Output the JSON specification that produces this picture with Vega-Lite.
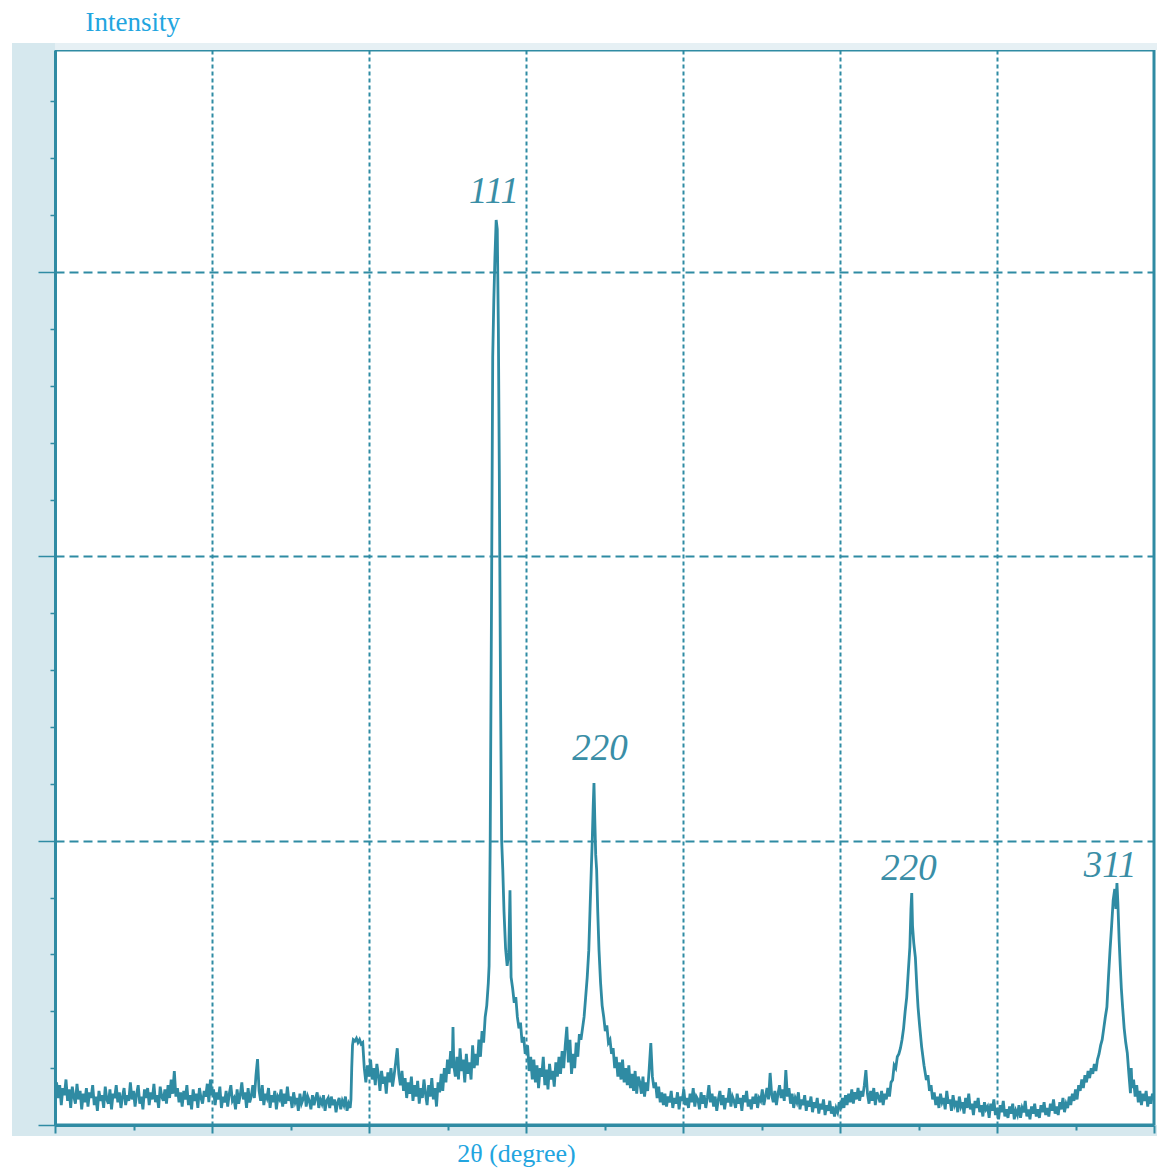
{
"$schema":"https://vega.github.io/schema/vega-lite/v6.json",
"width":1099,"height":1075,
"autosize":{"type":"none"},
"padding":{"left":55,"top":50,"right":3,"bottom":44},
"background":"white",
"config":{"view":{"stroke":"#2f8ba3","strokeWidth":3}},
"datasets":{
"xrd":[
{"angle":10.0,"intensity":120},{"angle":10.1,"intensity":150},{"angle":10.2,"intensity":95},{"angle":10.3,"intensity":140},{"angle":10.4,"intensity":70},{"angle":10.5,"intensity":130},{"angle":10.6,"intensity":105},{"angle":10.7,"intensity":160},{"angle":10.8,"intensity":85},{"angle":10.9,"intensity":125},
{"angle":11.0,"intensity":60},{"angle":11.1,"intensity":135},{"angle":11.2,"intensity":100},{"angle":11.3,"intensity":75},{"angle":11.4,"intensity":145},{"angle":11.5,"intensity":90},{"angle":11.6,"intensity":120},{"angle":11.7,"intensity":55},{"angle":11.8,"intensity":110},{"angle":11.9,"intensity":80},
{"angle":12.0,"intensity":130},{"angle":12.1,"intensity":65},{"angle":12.2,"intensity":115},{"angle":12.3,"intensity":95},{"angle":12.4,"intensity":140},{"angle":12.5,"intensity":70},{"angle":12.6,"intensity":100},{"angle":12.7,"intensity":50},{"angle":12.8,"intensity":120},{"angle":12.9,"intensity":85},
{"angle":13.0,"intensity":105},{"angle":13.1,"intensity":60},{"angle":13.2,"intensity":135},{"angle":13.3,"intensity":90},{"angle":13.4,"intensity":75},{"angle":13.5,"intensity":125},{"angle":13.6,"intensity":55},{"angle":13.7,"intensity":110},{"angle":13.8,"intensity":95},{"angle":13.9,"intensity":140},
{"angle":14.0,"intensity":80},{"angle":14.1,"intensity":115},{"angle":14.2,"intensity":60},{"angle":14.3,"intensity":100},{"angle":14.4,"intensity":130},{"angle":14.5,"intensity":70},{"angle":14.6,"intensity":105},{"angle":14.7,"intensity":85},{"angle":14.8,"intensity":150},{"angle":14.9,"intensity":90},
{"angle":15.0,"intensity":120},{"angle":15.1,"intensity":65},{"angle":15.2,"intensity":110},{"angle":15.3,"intensity":140},{"angle":15.4,"intensity":75},{"angle":15.5,"intensity":100},{"angle":15.6,"intensity":55},{"angle":15.7,"intensity":125},{"angle":15.8,"intensity":95},{"angle":15.9,"intensity":130},
{"angle":16.0,"intensity":70},{"angle":16.1,"intensity":115},{"angle":16.2,"intensity":90},{"angle":16.3,"intensity":145},{"angle":16.4,"intensity":80},{"angle":16.5,"intensity":105},{"angle":16.6,"intensity":60},{"angle":16.7,"intensity":135},{"angle":16.8,"intensity":100},{"angle":16.9,"intensity":85},
{"angle":17.0,"intensity":125},{"angle":17.1,"intensity":75},{"angle":17.2,"intensity":140},{"angle":17.3,"intensity":95},{"angle":17.4,"intensity":160},{"angle":17.5,"intensity":110},{"angle":17.6,"intensity":190},{"angle":17.7,"intensity":100},{"angle":17.8,"intensity":130},{"angle":17.9,"intensity":80},
{"angle":18.0,"intensity":115},{"angle":18.1,"intensity":65},{"angle":18.2,"intensity":120},{"angle":18.3,"intensity":90},{"angle":18.4,"intensity":140},{"angle":18.5,"intensity":70},{"angle":18.6,"intensity":105},{"angle":18.7,"intensity":55},{"angle":18.8,"intensity":125},{"angle":18.9,"intensity":85},
{"angle":19.0,"intensity":110},{"angle":19.1,"intensity":60},{"angle":19.2,"intensity":130},{"angle":19.3,"intensity":95},{"angle":19.4,"intensity":75},{"angle":19.5,"intensity":120},{"angle":19.6,"intensity":100},{"angle":19.7,"intensity":145},{"angle":19.8,"intensity":80},{"angle":19.9,"intensity":160},
{"angle":20.0,"intensity":105},{"angle":20.1,"intensity":125},{"angle":20.2,"intensity":70},{"angle":20.3,"intensity":115},{"angle":20.4,"intensity":90},{"angle":20.5,"intensity":135},{"angle":20.6,"intensity":60},{"angle":20.7,"intensity":100},{"angle":20.8,"intensity":80},{"angle":20.9,"intensity":120},
{"angle":21.0,"intensity":65},{"angle":21.1,"intensity":110},{"angle":21.2,"intensity":140},{"angle":21.3,"intensity":85},{"angle":21.4,"intensity":95},{"angle":21.5,"intensity":55},{"angle":21.6,"intensity":125},{"angle":21.7,"intensity":75},{"angle":21.8,"intensity":105},{"angle":21.9,"intensity":150},
{"angle":22.0,"intensity":90},{"angle":22.1,"intensity":115},{"angle":22.2,"intensity":60},{"angle":22.3,"intensity":130},{"angle":22.4,"intensity":80},{"angle":22.5,"intensity":100},{"angle":22.6,"intensity":140},{"angle":22.7,"intensity":95},{"angle":22.8,"intensity":175},{"angle":22.9,"intensity":232},
{"angle":23.0,"intensity":120},{"angle":23.1,"intensity":85},{"angle":23.2,"intensity":140},{"angle":23.3,"intensity":70},{"angle":23.4,"intensity":110},{"angle":23.5,"intensity":95},{"angle":23.6,"intensity":130},{"angle":23.7,"intensity":60},{"angle":23.8,"intensity":105},{"angle":23.9,"intensity":80},
{"angle":24.0,"intensity":120},{"angle":24.1,"intensity":55},{"angle":24.2,"intensity":100},{"angle":24.3,"intensity":90},{"angle":24.4,"intensity":125},{"angle":24.5,"intensity":65},{"angle":24.6,"intensity":110},{"angle":24.7,"intensity":75},{"angle":24.8,"intensity":135},{"angle":24.9,"intensity":85},
{"angle":25.0,"intensity":100},{"angle":25.1,"intensity":60},{"angle":25.2,"intensity":115},{"angle":25.3,"intensity":80},{"angle":25.4,"intensity":95},{"angle":25.5,"intensity":50},{"angle":25.6,"intensity":110},{"angle":25.7,"intensity":75},{"angle":25.8,"intensity":90},{"angle":25.9,"intensity":120},
{"angle":26.0,"intensity":65},{"angle":26.1,"intensity":100},{"angle":26.2,"intensity":85},{"angle":26.3,"intensity":55},{"angle":26.4,"intensity":105},{"angle":26.5,"intensity":70},{"angle":26.6,"intensity":95},{"angle":26.7,"intensity":115},{"angle":26.8,"intensity":60},{"angle":26.9,"intensity":90},
{"angle":27.0,"intensity":75},{"angle":27.1,"intensity":105},{"angle":27.2,"intensity":50},{"angle":27.3,"intensity":85},{"angle":27.4,"intensity":95},{"angle":27.5,"intensity":60},{"angle":27.6,"intensity":100},{"angle":27.7,"intensity":70},{"angle":27.8,"intensity":90},{"angle":27.9,"intensity":45},
{"angle":28.0,"intensity":80},{"angle":28.1,"intensity":95},{"angle":28.2,"intensity":55},{"angle":28.3,"intensity":85},{"angle":28.4,"intensity":70},{"angle":28.5,"intensity":100},{"angle":28.6,"intensity":50},{"angle":28.7,"intensity":75},{"angle":28.8,"intensity":60},{"angle":28.85,"intensity":90},
{"angle":28.9,"intensity":200},{"angle":28.95,"intensity":280},{"angle":29.0,"intensity":300},{"angle":29.1,"intensity":295},{"angle":29.2,"intensity":305},{"angle":29.3,"intensity":290},{"angle":29.4,"intensity":300},{"angle":29.5,"intensity":285},{"angle":29.6,"intensity":290},{"angle":29.7,"intensity":200},
{"angle":29.8,"intensity":150},{"angle":29.9,"intensity":210},{"angle":30.0,"intensity":170},{"angle":30.1,"intensity":230},{"angle":30.2,"intensity":160},{"angle":30.3,"intensity":200},{"angle":30.4,"intensity":140},{"angle":30.5,"intensity":215},{"angle":30.6,"intensity":175},{"angle":30.7,"intensity":120},
{"angle":30.8,"intensity":190},{"angle":30.9,"intensity":145},{"angle":31.0,"intensity":170},{"angle":31.1,"intensity":110},{"angle":31.2,"intensity":185},{"angle":31.3,"intensity":150},{"angle":31.4,"intensity":200},{"angle":31.5,"intensity":135},{"angle":31.6,"intensity":175},{"angle":31.7,"intensity":220},
{"angle":31.8,"intensity":270},{"angle":31.9,"intensity":180},{"angle":32.0,"intensity":140},{"angle":32.1,"intensity":190},{"angle":32.2,"intensity":120},{"angle":32.3,"intensity":165},{"angle":32.4,"intensity":95},{"angle":32.5,"intensity":150},{"angle":32.6,"intensity":110},{"angle":32.7,"intensity":170},
{"angle":32.8,"intensity":85},{"angle":32.9,"intensity":140},{"angle":33.0,"intensity":100},{"angle":33.1,"intensity":155},{"angle":33.2,"intensity":75},{"angle":33.3,"intensity":130},{"angle":33.4,"intensity":95},{"angle":33.5,"intensity":160},{"angle":33.6,"intensity":110},{"angle":33.7,"intensity":70},
{"angle":33.8,"intensity":140},{"angle":33.9,"intensity":100},{"angle":34.0,"intensity":165},{"angle":34.1,"intensity":90},{"angle":34.2,"intensity":130},{"angle":34.3,"intensity":65},{"angle":34.4,"intensity":150},{"angle":34.5,"intensity":115},{"angle":34.6,"intensity":180},{"angle":34.7,"intensity":120},
{"angle":34.8,"intensity":200},{"angle":34.9,"intensity":150},{"angle":35.0,"intensity":230},{"angle":35.1,"intensity":180},{"angle":35.2,"intensity":260},{"angle":35.3,"intensity":200},{"angle":35.35,"intensity":345},{"angle":35.4,"intensity":210},{"angle":35.5,"intensity":170},{"angle":35.6,"intensity":240},
{"angle":35.7,"intensity":160},{"angle":35.8,"intensity":270},{"angle":35.9,"intensity":190},{"angle":36.0,"intensity":230},{"angle":36.1,"intensity":150},{"angle":36.2,"intensity":250},{"angle":36.3,"intensity":180},{"angle":36.4,"intensity":220},{"angle":36.5,"intensity":160},{"angle":36.6,"intensity":280},
{"angle":36.7,"intensity":200},{"angle":36.8,"intensity":250},{"angle":36.9,"intensity":210},{"angle":37.0,"intensity":300},{"angle":37.1,"intensity":240},{"angle":37.2,"intensity":330},{"angle":37.3,"intensity":290},{"angle":37.4,"intensity":380},{"angle":37.5,"intensity":420},{"angle":37.6,"intensity":500},
{"angle":37.65,"intensity":560},{"angle":37.72,"intensity":1000},{"angle":37.8,"intensity":1800},{"angle":37.88,"intensity":2700},{"angle":37.95,"intensity":2900},{"angle":38.02,"intensity":3050},{"angle":38.1,"intensity":3183},{"angle":38.17,"intensity":3150},{"angle":38.24,"intensity":2800},{"angle":38.3,"intensity":2300},
{"angle":38.38,"intensity":1500},{"angle":38.45,"intensity":1000},{"angle":38.52,"intensity":900},{"angle":38.6,"intensity":750},{"angle":38.7,"intensity":620},{"angle":38.8,"intensity":560},{"angle":38.9,"intensity":600},{"angle":38.98,"intensity":826},{"angle":39.05,"intensity":520},{"angle":39.15,"intensity":480},
{"angle":39.25,"intensity":430},{"angle":39.35,"intensity":450},{"angle":39.45,"intensity":380},{"angle":39.55,"intensity":340},{"angle":39.65,"intensity":360},{"angle":39.75,"intensity":290},{"angle":39.85,"intensity":310},{"angle":39.95,"intensity":250},{"angle":40.1,"intensity":280},{"angle":40.2,"intensity":190},
{"angle":40.3,"intensity":240},{"angle":40.4,"intensity":160},{"angle":40.5,"intensity":230},{"angle":40.6,"intensity":150},{"angle":40.7,"intensity":210},{"angle":40.8,"intensity":130},{"angle":40.9,"intensity":200},{"angle":41.0,"intensity":170},{"angle":41.1,"intensity":240},{"angle":41.2,"intensity":140},
{"angle":41.3,"intensity":195},{"angle":41.4,"intensity":125},{"angle":41.5,"intensity":215},{"angle":41.6,"intensity":160},{"angle":41.7,"intensity":190},{"angle":41.8,"intensity":135},{"angle":41.9,"intensity":220},{"angle":42.0,"intensity":170},{"angle":42.1,"intensity":240},{"angle":42.2,"intensity":180},
{"angle":42.3,"intensity":260},{"angle":42.4,"intensity":200},{"angle":42.5,"intensity":280},{"angle":42.6,"intensity":345},{"angle":42.7,"intensity":220},{"angle":42.8,"intensity":300},{"angle":42.9,"intensity":180},{"angle":43.0,"intensity":250},{"angle":43.1,"intensity":200},{"angle":43.2,"intensity":290},
{"angle":43.3,"intensity":240},{"angle":43.4,"intensity":320},{"angle":43.5,"intensity":300},{"angle":43.6,"intensity":340},{"angle":43.7,"intensity":380},{"angle":43.8,"intensity":450},{"angle":43.9,"intensity":520},{"angle":44.0,"intensity":615},{"angle":44.08,"intensity":760},{"angle":44.16,"intensity":900},
{"angle":44.22,"intensity":1000},{"angle":44.28,"intensity":1120},{"angle":44.33,"intensity":1203},{"angle":44.38,"intensity":1080},{"angle":44.44,"intensity":950},{"angle":44.5,"intensity":897},{"angle":44.57,"intensity":750},{"angle":44.65,"intensity":615},{"angle":44.75,"intensity":500},{"angle":44.85,"intensity":420},
{"angle":44.95,"intensity":380},{"angle":45.05,"intensity":330},{"angle":45.15,"intensity":350},{"angle":45.25,"intensity":290},{"angle":45.35,"intensity":300},{"angle":45.45,"intensity":250},{"angle":45.55,"intensity":270},{"angle":45.65,"intensity":200},{"angle":45.75,"intensity":240},{"angle":45.85,"intensity":170},
{"angle":45.95,"intensity":220},{"angle":46.05,"intensity":160},{"angle":46.15,"intensity":230},{"angle":46.25,"intensity":150},{"angle":46.35,"intensity":200},{"angle":46.45,"intensity":140},{"angle":46.55,"intensity":210},{"angle":46.65,"intensity":130},{"angle":46.75,"intensity":180},{"angle":46.85,"intensity":120},
{"angle":46.95,"intensity":190},{"angle":47.05,"intensity":110},{"angle":47.15,"intensity":170},{"angle":47.25,"intensity":150},{"angle":47.35,"intensity":110},{"angle":47.45,"intensity":170},{"angle":47.55,"intensity":100},{"angle":47.65,"intensity":150},{"angle":47.75,"intensity":120},{"angle":47.85,"intensity":200},
{"angle":47.95,"intensity":288},{"angle":48.05,"intensity":170},{"angle":48.15,"intensity":130},{"angle":48.25,"intensity":150},{"angle":48.35,"intensity":95},{"angle":48.45,"intensity":135},{"angle":48.55,"intensity":80},{"angle":48.65,"intensity":115},{"angle":48.75,"intensity":70},{"angle":48.85,"intensity":110},
{"angle":48.95,"intensity":65},{"angle":49.05,"intensity":100},{"angle":49.15,"intensity":80},{"angle":49.25,"intensity":120},{"angle":49.35,"intensity":60},{"angle":49.45,"intensity":95},{"angle":49.55,"intensity":75},{"angle":49.65,"intensity":115},{"angle":49.75,"intensity":55},{"angle":49.85,"intensity":100},
{"angle":49.95,"intensity":85},{"angle":50.05,"intensity":125},{"angle":50.15,"intensity":70},{"angle":50.25,"intensity":95},{"angle":50.35,"intensity":60},{"angle":50.45,"intensity":110},{"angle":50.55,"intensity":80},{"angle":50.65,"intensity":130},{"angle":50.75,"intensity":65},{"angle":50.85,"intensity":100},
{"angle":50.95,"intensity":90},{"angle":51.05,"intensity":55},{"angle":51.15,"intensity":115},{"angle":51.25,"intensity":75},{"angle":51.35,"intensity":105},{"angle":51.45,"intensity":60},{"angle":51.55,"intensity":95},{"angle":51.65,"intensity":140},{"angle":51.75,"intensity":80},{"angle":51.85,"intensity":110},
{"angle":51.95,"intensity":65},{"angle":52.05,"intensity":100},{"angle":52.15,"intensity":50},{"angle":52.25,"intensity":90},{"angle":52.35,"intensity":120},{"angle":52.45,"intensity":70},{"angle":52.55,"intensity":105},{"angle":52.65,"intensity":55},{"angle":52.75,"intensity":95},{"angle":52.85,"intensity":80},
{"angle":52.95,"intensity":130},{"angle":53.05,"intensity":65},{"angle":53.15,"intensity":100},{"angle":53.25,"intensity":85},{"angle":53.35,"intensity":60},{"angle":53.45,"intensity":110},{"angle":53.55,"intensity":75},{"angle":53.65,"intensity":95},{"angle":53.75,"intensity":50},{"angle":53.85,"intensity":105},
{"angle":53.95,"intensity":80},{"angle":54.05,"intensity":120},{"angle":54.15,"intensity":65},{"angle":54.25,"intensity":90},{"angle":54.35,"intensity":55},{"angle":54.45,"intensity":100},{"angle":54.55,"intensity":75},{"angle":54.65,"intensity":110},{"angle":54.75,"intensity":60},{"angle":54.85,"intensity":95},
{"angle":54.95,"intensity":85},{"angle":55.05,"intensity":125},{"angle":55.15,"intensity":70},{"angle":55.25,"intensity":100},{"angle":55.35,"intensity":130},{"angle":55.45,"intensity":90},{"angle":55.55,"intensity":183},{"angle":55.65,"intensity":105},{"angle":55.75,"intensity":80},{"angle":55.85,"intensity":120},
{"angle":55.95,"intensity":70},{"angle":56.05,"intensity":110},{"angle":56.15,"intensity":140},{"angle":56.25,"intensity":95},{"angle":56.35,"intensity":125},{"angle":56.45,"intensity":85},{"angle":56.55,"intensity":193},{"angle":56.65,"intensity":100},{"angle":56.75,"intensity":130},{"angle":56.85,"intensity":75},
{"angle":56.95,"intensity":110},{"angle":57.05,"intensity":60},{"angle":57.15,"intensity":95},{"angle":57.25,"intensity":80},{"angle":57.35,"intensity":115},{"angle":57.45,"intensity":55},{"angle":57.55,"intensity":90},{"angle":57.65,"intensity":70},{"angle":57.75,"intensity":105},{"angle":57.85,"intensity":50},
{"angle":57.95,"intensity":85},{"angle":58.05,"intensity":65},{"angle":58.15,"intensity":100},{"angle":58.25,"intensity":45},{"angle":58.35,"intensity":80},{"angle":58.45,"intensity":60},{"angle":58.55,"intensity":95},{"angle":58.65,"intensity":40},{"angle":58.75,"intensity":75},{"angle":58.85,"intensity":55},
{"angle":58.95,"intensity":90},{"angle":59.05,"intensity":35},{"angle":59.15,"intensity":70},{"angle":59.25,"intensity":50},{"angle":59.35,"intensity":85},{"angle":59.45,"intensity":40},{"angle":59.55,"intensity":65},{"angle":59.65,"intensity":30},{"angle":59.75,"intensity":60},{"angle":59.85,"intensity":45},
{"angle":59.95,"intensity":80},{"angle":60.05,"intensity":55},{"angle":60.15,"intensity":95},{"angle":60.25,"intensity":60},{"angle":60.35,"intensity":105},{"angle":60.45,"intensity":70},{"angle":60.55,"intensity":110},{"angle":60.65,"intensity":80},{"angle":60.75,"intensity":125},{"angle":60.85,"intensity":75},
{"angle":60.95,"intensity":115},{"angle":61.05,"intensity":90},{"angle":61.15,"intensity":130},{"angle":61.25,"intensity":85},{"angle":61.35,"intensity":120},{"angle":61.45,"intensity":100},{"angle":61.55,"intensity":140},{"angle":61.65,"intensity":193},{"angle":61.75,"intensity":110},{"angle":61.85,"intensity":75},
{"angle":61.95,"intensity":120},{"angle":62.05,"intensity":85},{"angle":62.15,"intensity":130},{"angle":62.25,"intensity":70},{"angle":62.35,"intensity":115},{"angle":62.45,"intensity":100},{"angle":62.55,"intensity":80},{"angle":62.65,"intensity":120},{"angle":62.75,"intensity":70},{"angle":62.85,"intensity":110},
{"angle":62.95,"intensity":90},{"angle":63.05,"intensity":130},{"angle":63.15,"intensity":100},{"angle":63.25,"intensity":150},{"angle":63.35,"intensity":158},{"angle":63.45,"intensity":210},{"angle":63.55,"intensity":200},{"angle":63.65,"intensity":240},{"angle":63.75,"intensity":250},{"angle":63.85,"intensity":270},
{"angle":63.95,"intensity":300},{"angle":64.05,"intensity":340},{"angle":64.15,"intensity":400},{"angle":64.25,"intensity":450},{"angle":64.35,"intensity":540},{"angle":64.45,"intensity":626},{"angle":64.52,"intensity":760},{"angle":64.57,"intensity":816},{"angle":64.62,"intensity":700},{"angle":64.7,"intensity":640},
{"angle":64.8,"intensity":590},{"angle":64.9,"intensity":480},{"angle":64.97,"intensity":415},{"angle":65.07,"intensity":350},{"angle":65.2,"intensity":275},{"angle":65.35,"intensity":210},{"angle":65.5,"intensity":158},{"angle":65.6,"intensity":175},{"angle":65.7,"intensity":120},{"angle":65.8,"intensity":140},
{"angle":65.9,"intensity":90},{"angle":66.0,"intensity":115},{"angle":66.1,"intensity":70},{"angle":66.2,"intensity":100},{"angle":66.3,"intensity":60},{"angle":66.4,"intensity":110},{"angle":66.5,"intensity":80},{"angle":66.6,"intensity":95},{"angle":66.7,"intensity":55},{"angle":66.8,"intensity":120},
{"angle":66.9,"intensity":75},{"angle":67.0,"intensity":90},{"angle":67.1,"intensity":50},{"angle":67.2,"intensity":105},{"angle":67.3,"intensity":70},{"angle":67.4,"intensity":85},{"angle":67.5,"intensity":45},{"angle":67.6,"intensity":100},{"angle":67.7,"intensity":65},{"angle":67.8,"intensity":80},
{"angle":67.9,"intensity":40},{"angle":68.0,"intensity":95},{"angle":68.1,"intensity":60},{"angle":68.2,"intensity":110},{"angle":68.3,"intensity":55},{"angle":68.4,"intensity":75},{"angle":68.5,"intensity":35},{"angle":68.6,"intensity":85},{"angle":68.7,"intensity":60},{"angle":68.8,"intensity":95},
{"angle":68.9,"intensity":45},{"angle":69.0,"intensity":70},{"angle":69.1,"intensity":30},{"angle":69.2,"intensity":80},{"angle":69.3,"intensity":55},{"angle":69.4,"intensity":65},{"angle":69.5,"intensity":25},{"angle":69.6,"intensity":75},{"angle":69.7,"intensity":50},{"angle":69.8,"intensity":90},
{"angle":69.9,"intensity":35},{"angle":70.0,"intensity":60},{"angle":70.1,"intensity":20},{"angle":70.2,"intensity":70},{"angle":70.3,"intensity":45},{"angle":70.4,"intensity":85},{"angle":70.5,"intensity":30},{"angle":70.6,"intensity":55},{"angle":70.7,"intensity":25},{"angle":70.8,"intensity":65},
{"angle":70.9,"intensity":40},{"angle":71.0,"intensity":75},{"angle":71.1,"intensity":20},{"angle":71.2,"intensity":50},{"angle":71.3,"intensity":35},{"angle":71.4,"intensity":70},{"angle":71.5,"intensity":25},{"angle":71.6,"intensity":60},{"angle":71.7,"intensity":45},{"angle":71.8,"intensity":85},
{"angle":71.9,"intensity":30},{"angle":72.0,"intensity":55},{"angle":72.1,"intensity":20},{"angle":72.2,"intensity":65},{"angle":72.3,"intensity":40},{"angle":72.4,"intensity":75},{"angle":72.5,"intensity":30},{"angle":72.6,"intensity":55},{"angle":72.7,"intensity":25},{"angle":72.8,"intensity":70},
{"angle":72.9,"intensity":45},{"angle":73.0,"intensity":80},{"angle":73.1,"intensity":35},{"angle":73.2,"intensity":60},{"angle":73.3,"intensity":30},{"angle":73.4,"intensity":75},{"angle":73.5,"intensity":50},{"angle":73.6,"intensity":90},{"angle":73.7,"intensity":40},{"angle":73.8,"intensity":65},
{"angle":73.9,"intensity":35},{"angle":74.0,"intensity":80},{"angle":74.1,"intensity":55},{"angle":74.2,"intensity":95},{"angle":74.3,"intensity":45},{"angle":74.4,"intensity":75},{"angle":74.5,"intensity":60},{"angle":74.6,"intensity":100},{"angle":74.7,"intensity":70},{"angle":74.8,"intensity":110},
{"angle":74.9,"intensity":85},{"angle":75.0,"intensity":125},{"angle":75.1,"intensity":90},{"angle":75.2,"intensity":140},{"angle":75.3,"intensity":120},{"angle":75.4,"intensity":160},{"angle":75.5,"intensity":130},{"angle":75.6,"intensity":175},{"angle":75.7,"intensity":150},{"angle":75.8,"intensity":190},
{"angle":75.9,"intensity":165},{"angle":76.0,"intensity":200},{"angle":76.1,"intensity":180},{"angle":76.2,"intensity":215},{"angle":76.3,"intensity":190},{"angle":76.4,"intensity":230},{"angle":76.5,"intensity":250},{"angle":76.6,"intensity":280},{"angle":76.7,"intensity":300},{"angle":76.8,"intensity":340},
{"angle":76.9,"intensity":380},{"angle":77.0,"intensity":415},{"angle":77.1,"intensity":520},{"angle":77.2,"intensity":615},{"angle":77.3,"intensity":700},{"angle":77.4,"intensity":791},{"angle":77.5,"intensity":830},{"angle":77.57,"intensity":760},{"angle":77.64,"intensity":851},{"angle":77.7,"intensity":780},
{"angle":77.78,"intensity":650},{"angle":77.85,"intensity":560},{"angle":77.92,"intensity":480},{"angle":78.0,"intensity":415},{"angle":78.1,"intensity":340},{"angle":78.2,"intensity":290},{"angle":78.3,"intensity":253},{"angle":78.4,"intensity":180},{"angle":78.5,"intensity":112},{"angle":78.55,"intensity":200},
{"angle":78.6,"intensity":130},{"angle":78.7,"intensity":160},{"angle":78.8,"intensity":100},{"angle":78.9,"intensity":140},{"angle":79.0,"intensity":80},{"angle":79.1,"intensity":120},{"angle":79.2,"intensity":70},{"angle":79.3,"intensity":110},{"angle":79.4,"intensity":85},{"angle":79.5,"intensity":120},
{"angle":79.6,"intensity":65},{"angle":79.7,"intensity":100},{"angle":79.8,"intensity":75},{"angle":79.9,"intensity":110},{"angle":80.0,"intensity":90}
],
"labels":[
{"angle":37.96,"intensity":3243,"label":"111"},
{"angle":44.71,"intensity":1284,"label":"220"},
{"angle":64.39,"intensity":862,"label":"220"},
{"angle":77.2,"intensity":872,"label":"311"}
]
},
"layer":[
{
"data":{"values":[{}]},
"mark":{"type":"rect","color":"#d6e8ee","clip":false},
"encoding":{
"x":{"datum":7.26,"type":"quantitative","scale":{"domain":[10,80],"nice":false,"zero":false}},
"x2":{"datum":10},
"y":{"datum":-39,"type":"quantitative","scale":{"domain":[0,3781],"nice":false,"zero":false}},
"y2":{"datum":3806}
}
},
{
"data":{"values":[{}]},
"mark":{"type":"rect","color":"#d6e8ee","clip":false},
"encoding":{
"x":{"datum":7.26,"type":"quantitative"},
"x2":{"datum":80.2},
"y":{"datum":-39,"type":"quantitative"},
"y2":{"datum":0}
}
},
{
"data":{"values":[{}]},
"mark":{"type":"rect","color":"#e6f0f4","clip":false},
"encoding":{
"x":{"datum":10,"type":"quantitative"},
"x2":{"datum":80.2},
"y":{"datum":3781,"type":"quantitative"},
"y2":{"datum":3806}
}
},
{
"data":{"name":"xrd"},
"mark":{"type":"line","color":"#2f8ba3","strokeWidth":2.8,"clip":true},
"encoding":{
"x":{"field":"angle","type":"quantitative",
"axis":{"zindex":1,"title":"2θ (degree)","titleFont":"Liberation Serif","titleFontSize":26,"titleFontWeight":"normal","titleColor":"#22a5df","titleX":461,"titleY":36,"titleAlign":"center","titleBaseline":"alphabetic",
"values":[10,15,20,25,30,35,40,45,50,55,60,65,70,75,80],"labels":false,
"domain":true,"domainColor":"#2f8ba3","domainWidth":3,
"ticks":true,"tickWidth":2,"tickColor":"#2f8ba3",
"tickSize":{"condition":{"test":"datum.value % 10 === 0","value":8},"value":5},
"grid":true,"gridColor":"#2f8ba3","gridWidth":2,"gridDash":[4,3],
"gridOpacity":{"condition":{"test":"datum.value % 10 === 0 && datum.value > 10 && datum.value < 80","value":1},"value":0}}},
"y":{"field":"intensity","type":"quantitative",
"axis":{"zindex":1,"title":"Intensity","titleFont":"Liberation Serif","titleFontSize":27,"titleFontWeight":"normal","titleColor":"#22a5df","titleAngle":0,"titleX":30,"titleY":-20,"titleAlign":"left","titleBaseline":"alphabetic",
"values":[0,100,200,300,400,500,600,700,800,900,1000,1100,1200,1300,1400,1500,1600,1700,1800,1900,2000,2100,2200,2300,2400,2500,2600,2700,2800,2900,3000,3100,3200,3300,3400,3500,3600,3700],
"labels":false,"domain":true,"domainColor":"#2f8ba3","domainWidth":3,
"ticks":true,"tickColor":"#2f8ba3","tickWidth":1.5,
"tickSize":{"condition":{"test":"datum.value % 1000 === 0","value":17},"value":5},
"grid":true,"gridColor":"#2f8ba3","gridWidth":2,"gridDash":[9,5],
"gridOpacity":{"condition":{"test":"datum.value % 1000 === 0 && datum.value > 0","value":1},"value":0}}}
}
},
{
"data":{"name":"labels"},
"mark":{"type":"text","font":"Liberation Serif","fontSize":37,"fontStyle":"italic","color":"#3a8ea6","align":"center","baseline":"alphabetic"},
"encoding":{
"x":{"field":"angle","type":"quantitative"},
"y":{"field":"intensity","type":"quantitative"},
"text":{"field":"label"}
}
}
]
}
